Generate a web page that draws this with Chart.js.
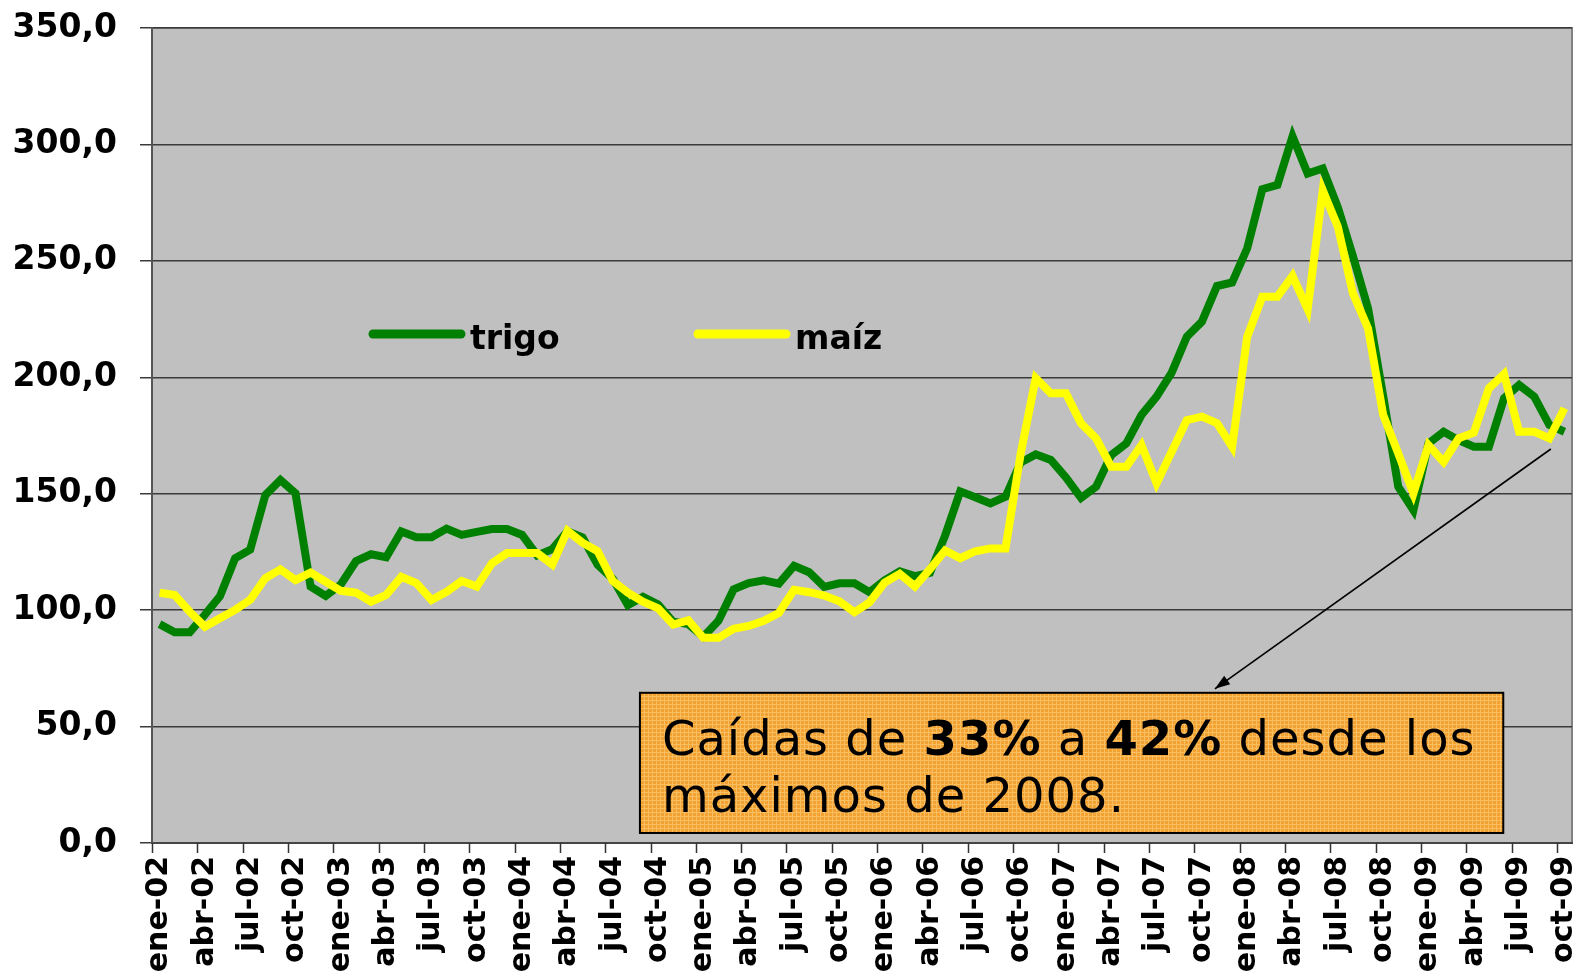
<!DOCTYPE html>
<html>
<head>
<meta charset="utf-8">
<script src="https://cdn.jsdelivr.net/npm/chart.js@4.4.1/dist/chart.umd.min.js"></script>
<style>
  html, body { margin: 0; padding: 0; background: #fff; }
  #wrap { width: 1579px; height: 977px; }
</style>
</head>
<body>
<div id="wrap"><canvas id="grafico" width="1579" height="977"></canvas></div>
<script>
// etiquetas mensuales ene-02 .. oct-09
const meses = ["ene", "feb", "mar", "abr", "may", "jun", "jul", "ago", "sep", "oct", "nov", "dic"];
const anos = ["02", "03", "04", "05", "06", "07", "08", "09"];
const categorias = [];
anos.forEach(a => meses.forEach(m => categorias.push(m + "-" + a)));
categorias.length = 94;

const trigo = [
  94.0, 90.5, 90.5, 98.0, 106.0, 122.3, 126.0, 149.4, 155.9, 150.2, 110.1, 106.1,
  111.0, 121.0, 124.0, 122.7, 133.8, 131.3, 131.3, 135.0, 132.3, 133.6, 134.8, 134.8,
  132.3, 123.5, 126.2, 133.9, 131.2, 119.5, 113.5, 102.2, 105.7, 102.4, 95.0, 94.0,
  88.6, 95.5, 108.9, 111.6, 112.8, 111.4, 119.0, 116.3, 110.0, 111.5, 111.5, 107.7,
  112.8, 116.7, 114.6, 116.0, 132.0, 151.0, 148.5, 145.8, 148.7, 163.4, 166.9, 164.5,
  157.0, 148.2, 153.0, 166.6, 171.6, 183.8, 191.7, 202.0, 217.4, 223.9, 239.2, 240.7,
  255.4, 280.8, 282.6, 303.5, 287.5, 289.7, 273.0, 252.0, 229.6, 192.0, 153.0, 143.0,
  171.6, 176.6, 173.0, 170.2, 170.2, 191.0, 196.7, 191.7, 179.5, 176.6
];

const maiz = [
  107.5, 106.5, 99.3, 92.9, 96.5, 100.1, 104.4, 113.7, 117.5, 112.9, 116.1, 112.2,
  108.3, 107.5, 103.6, 106.5, 114.3, 111.6, 104.4, 107.9, 112.5, 110.1, 120.1, 124.5,
  124.5, 124.5, 119.6, 134.1, 129.0, 125.3, 112.6, 107.5, 103.6, 100.8, 93.8, 95.6,
  88.1, 88.1, 92.0, 93.2, 95.4, 98.8, 108.7, 107.7, 106.3, 103.8, 99.1, 103.4,
  111.8, 115.6, 110.2, 117.6, 125.6, 122.3, 125.3, 126.5, 126.5, 167.0, 199.6, 193.1,
  193.1, 180.2, 173.8, 161.6, 161.6, 170.9, 154.5, 168.0, 181.6, 183.1, 180.3, 170.2,
  217.4, 234.6, 234.6, 243.5, 229.2, 280.3, 264.7, 236.0, 221.0, 183.8, 167.3, 150.1,
  170.9, 163.7, 173.8, 176.2, 195.3, 201.4, 176.6, 176.6, 173.8, 186.7
];

// nota: caja y flecha en coordenadas del grafico (indice de mes, valor)
const nota = { x0: 31.8, x1: 88.95, yTop: 64.5, yBottom: 4.3 };
const flecha = { desdeX: 92.1, desdeY: 169.2, hastaX: 69.86, hastaY: 66.2 };

function patronNaranja(ctx) {
  const c = document.createElement("canvas");
  c.width = 4; c.height = 4;
  const p = c.getContext("2d");
  p.fillStyle = "#F3A232";
  p.fillRect(0, 0, 4, 4);
  p.fillStyle = "#F7BE62";
  p.fillRect(0, 0, 4, 1);
  p.fillRect(0, 0, 1, 4);
  return ctx.createPattern(c, "repeat");
}

const fondoPlot = {
  id: "fondoPlot",
  beforeDraw(chart) {
    const { ctx, chartArea: a } = chart;
    ctx.save();
    ctx.fillStyle = "#fff";
    ctx.fillRect(0, 0, chart.width, chart.height);
    ctx.fillStyle = "#C0C0C0";
    ctx.fillRect(a.left, a.top, a.right - a.left, a.bottom - a.top);
    ctx.strokeStyle = "#808080";
    ctx.lineWidth = 2;
    ctx.strokeRect(a.left, a.top, a.right - a.left, a.bottom - a.top);
    ctx.restore();
  }
};

// marcas del eje x en el borde izquierdo de cada trimestre
const marcasX = {
  id: "marcasX",
  afterDraw(chart) {
    const { ctx, chartArea: a } = chart;
    const xs = chart.scales.x;
    ctx.save();
    ctx.strokeStyle = "#333";
    ctx.lineWidth = 1.5;
    ctx.beginPath();
    for (let i = 0; i < categorias.length; i += 3) {
      const x = Math.round(xs.getPixelForValue(i - 0.5)) + 0.5;
      ctx.moveTo(x, a.bottom);
      ctx.lineTo(x, a.bottom + 10);
    }
    ctx.stroke();
    ctx.restore();
  }
};

const leyenda = {
  id: "leyenda",
  afterDatasetsDraw(chart) {
    const { ctx, chartArea: a } = chart;
    const items = [
      { ds: chart.data.datasets[1], x: a.left + 221 },
      { ds: chart.data.datasets[0], x: a.left + 546 }
    ];
    ctx.save();
    ctx.font = 'bold 33px "DejaVu Sans"';
    ctx.textBaseline = "alphabetic";
    items.forEach(it => {
      ctx.strokeStyle = it.ds.borderColor;
      ctx.lineWidth = 9;
      ctx.lineCap = "round";
      ctx.beginPath();
      ctx.moveTo(it.x, a.top + 306);
      ctx.lineTo(it.x + 88, a.top + 306);
      ctx.stroke();
      ctx.fillStyle = "#000";
      ctx.fillText(it.ds.label, it.x + 97, a.top + 321);
    });
    ctx.restore();
  }
};

const caja = {
  id: "caja",
  afterDatasetsDraw(chart) {
    const { ctx } = chart;
    const xs = chart.scales.x, ys = chart.scales.y;
    const left = xs.getPixelForValue(nota.x0), right = xs.getPixelForValue(nota.x1);
    const top = ys.getPixelForValue(nota.yTop), bottom = ys.getPixelForValue(nota.yBottom);

    ctx.save();
    // flecha
    const x0 = xs.getPixelForValue(flecha.desdeX), y0 = ys.getPixelForValue(flecha.desdeY);
    const x1 = xs.getPixelForValue(flecha.hastaX), y1 = ys.getPixelForValue(flecha.hastaY);
    ctx.strokeStyle = "#000";
    ctx.fillStyle = "#000";
    ctx.lineWidth = 1.6;
    ctx.beginPath();
    ctx.moveTo(x0, y0);
    ctx.lineTo(x1, y1);
    ctx.stroke();
    const ang = Math.atan2(y1 - y0, x1 - x0);
    ctx.beginPath();
    ctx.moveTo(x1, y1);
    ctx.lineTo(x1 - 16 * Math.cos(ang - 0.33), y1 - 16 * Math.sin(ang - 0.33));
    ctx.lineTo(x1 - 16 * Math.cos(ang + 0.33), y1 - 16 * Math.sin(ang + 0.33));
    ctx.closePath();
    ctx.fill();

    // caja
    ctx.fillStyle = patronNaranja(ctx);
    ctx.fillRect(left, top, right - left, bottom - top);
    ctx.lineWidth = 2;
    ctx.strokeRect(left, top, right - left, bottom - top);

    // texto
    const lineas = [
      [["Caídas de ", false], ["33%", true], [" a ", false], ["42%", true], [" desde los", false]],
      [["máximos de 2008.", false]]
    ];
    ctx.fillStyle = "#000";
    ctx.textBaseline = "alphabetic";
    if ("letterSpacing" in ctx) ctx.letterSpacing = "1px";
    lineas.forEach((partes, n) => {
      let x = left + 22;
      const y = top + 62 + n * 57;
      partes.forEach(([txt, negrita]) => {
        ctx.font = (negrita ? "bold " : "") + '48px "DejaVu Sans"';
        ctx.fillText(txt, x, y);
        x += ctx.measureText(txt).width;
      });
    });
    ctx.restore();
  }
};

new Chart(document.getElementById("grafico"), {
  type: "line",
  data: {
    labels: categorias,
    datasets: [
      {
        label: "maíz",
        data: maiz,
        borderColor: "#FFFF00",
        borderWidth: 8,
        pointRadius: 0,
        tension: 0,
        fill: false,
        order: 0
      },
      {
        label: "trigo",
        data: trigo,
        borderColor: "#008000",
        borderWidth: 8,
        pointRadius: 0,
        tension: 0,
        fill: false,
        order: 1
      }
    ]
  },
  options: {
    responsive: false,
    animation: false,
    layout: { padding: { top: 28, right: 7, bottom: 0, left: 0 } },
    plugins: { legend: { display: false }, tooltip: { enabled: false } },
    scales: {
      x: {
        type: "category",
        offset: true,
        // marcas reales las dibuja marcasX; aqui solo reservan el espacio
        grid: { drawOnChartArea: false, color: "rgba(0,0,0,0)", tickLength: 10 },
        border: { color: "#444", width: 2 },
        ticks: {
          autoSkip: false,
          minRotation: 90,
          maxRotation: 90,
          padding: 3,
          color: "#000",
          font: { family: "DejaVu Sans", weight: "bold", size: 30 },
          callback: (v, i) => (i % 3 === 0 ? categorias[i] : null)
        },
        afterFit: s => { s.height = 134; s.paddingLeft = 0; s.paddingRight = 0; }
      },
      y: {
        min: 0,
        max: 350,
        grid: { color: "#3a3a3a", lineWidth: 1.5, tickLength: 12 },
        border: { color: "#555", width: 2 },
        ticks: {
          stepSize: 50,
          padding: 23,
          color: "#000",
          font: { family: "DejaVu Sans", weight: "bold", size: 33 },
          callback: v => v.toFixed(1).replace(".", ",")
        },
        afterFit: s => { s.width = 152; s.paddingTop = 0; s.paddingBottom = 0; }
      }
    }
  },
  plugins: [fondoPlot, marcasX, leyenda, caja]
});
</script>
</body>
</html>
